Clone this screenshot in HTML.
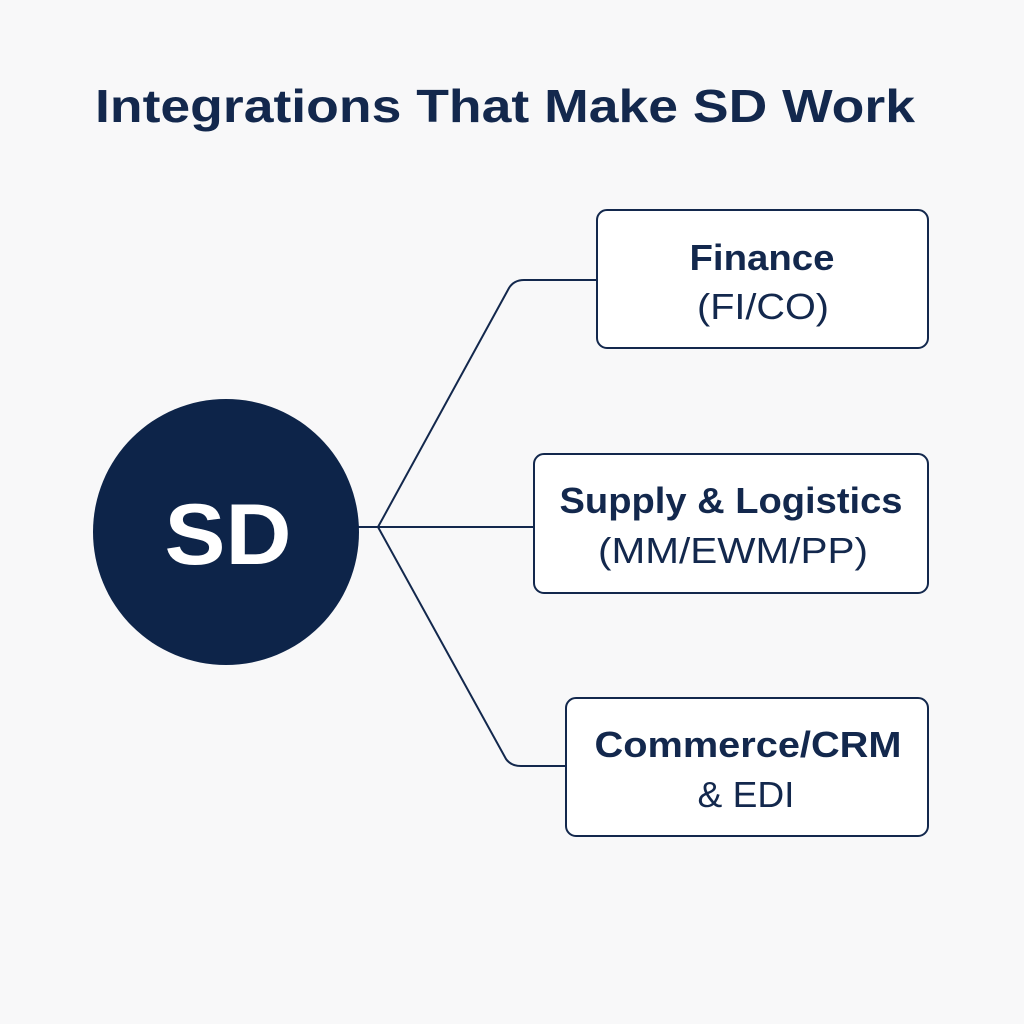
<!DOCTYPE html>
<html><head><style>
body{margin:0;background:#f8f8f9;}
svg{display:block}
</style></head><body>
<svg width="1024" height="1024" viewBox="0 0 1024 1024" xmlns="http://www.w3.org/2000/svg">
<rect width="1024" height="1024" fill="#f8f8f9"/>
<text x="505" y="122" text-anchor="middle" font-family="Liberation Sans, sans-serif" font-weight="bold" font-size="46" fill="#13284d" textLength="820" lengthAdjust="spacingAndGlyphs">Integrations That Make SD Work</text>
<g fill="none" stroke="#13284d" stroke-width="2">
<path d="M357 527 H378 L509 288 Q514 280 524 280 H597"/>
<path d="M378 527 H534"/>
<path d="M378 527 L506 759 Q511 766 521 766 H566"/>
</g>
<circle cx="226" cy="532" r="133" fill="#0d2449"/>
<text x="228" y="564" text-anchor="middle" font-family="Liberation Sans, sans-serif" font-weight="bold" font-size="86" fill="#fff" textLength="127" lengthAdjust="spacingAndGlyphs">SD</text>
<g font-family="Liberation Sans, sans-serif" font-size="36" fill="#13284d" text-anchor="middle">
</g>
<g fill="#fff" stroke="#13284d" stroke-width="2">
<rect x="597" y="210" width="331" height="138" rx="10"/>
<rect x="534" y="454" width="394" height="139" rx="10"/>
<rect x="566" y="698" width="362" height="138" rx="10"/>
</g>
<g font-family="Liberation Sans, sans-serif" font-size="36" fill="#13284d" text-anchor="middle" lengthAdjust="spacingAndGlyphs">
<text x="762" y="270" font-weight="bold" textLength="145" lengthAdjust="spacingAndGlyphs">Finance</text>
<text x="763" y="319" textLength="132" lengthAdjust="spacingAndGlyphs">(FI/CO)</text>
<text x="731" y="513" font-weight="bold" textLength="343" lengthAdjust="spacingAndGlyphs">Supply &amp; Logistics</text>
<text x="733" y="563" textLength="270" lengthAdjust="spacingAndGlyphs">(MM/EWM/PP)</text>
<text x="748" y="757" font-weight="bold" textLength="307" lengthAdjust="spacingAndGlyphs">Commerce/CRM</text>
<text x="746" y="807" textLength="97" lengthAdjust="spacingAndGlyphs">&amp; EDI</text>
</g>
</svg>
</body></html>
